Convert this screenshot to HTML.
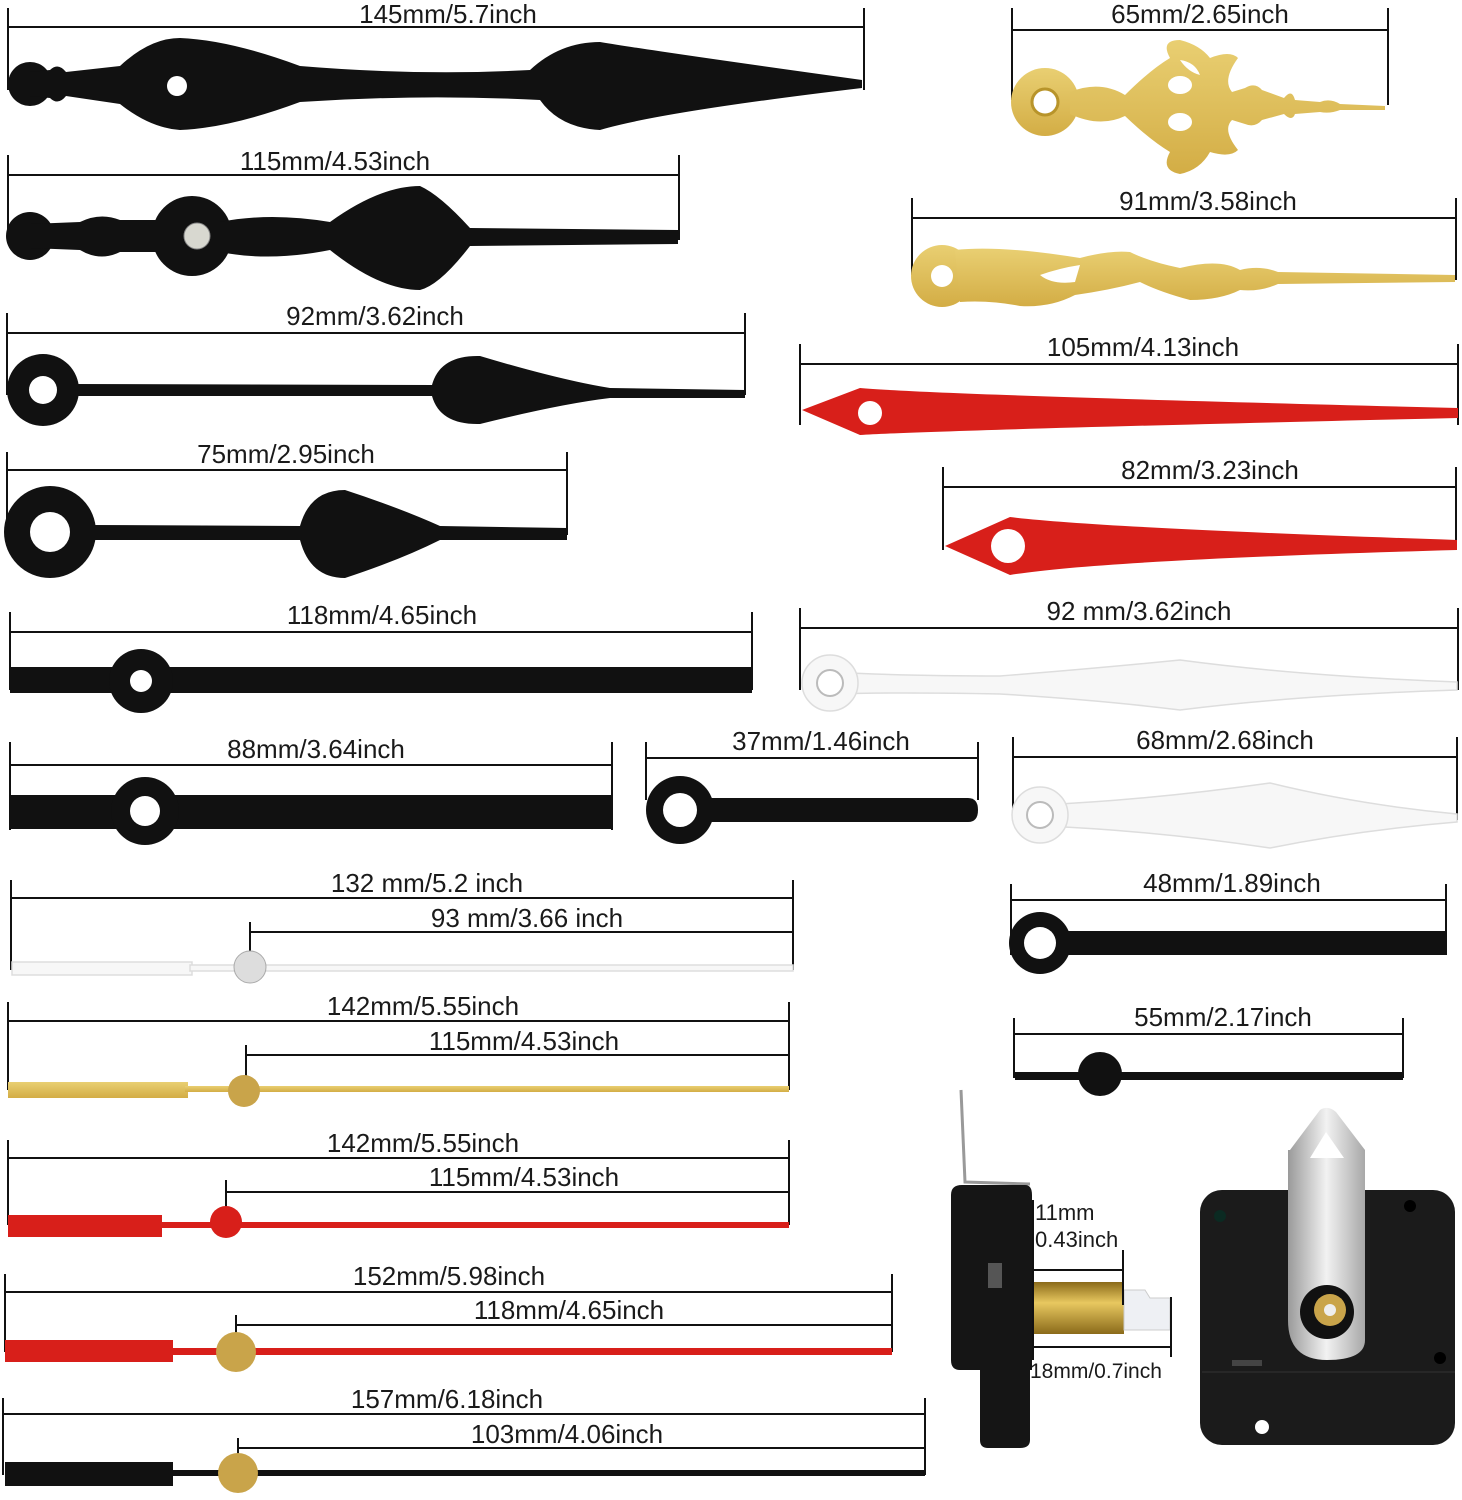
<!DOCTYPE html>
<html><head><meta charset="utf-8"><style>
html,body{margin:0;padding:0;background:#fff;}
svg{display:block;}
text{font-family:"Liberation Sans",sans-serif;font-size:26px;fill:#1a1a1a;}
</style></head><body>
<svg width="1462" height="1500" viewBox="0 0 1462 1500" xmlns="http://www.w3.org/2000/svg">
<defs>
<linearGradient id="gold" x1="0" y1="0" x2="0" y2="1"><stop offset="0" stop-color="#e9cf72"/><stop offset="1" stop-color="#d3ad45"/></linearGradient>
<linearGradient id="brass" x1="0" y1="0" x2="0" y2="1"><stop offset="0" stop-color="#8a6a1a"/><stop offset=".4" stop-color="#e8c860"/><stop offset="1" stop-color="#8a6a1a"/></linearGradient>
<linearGradient id="silver" x1="0" y1="0" x2="1" y2="0"><stop offset="0" stop-color="#9a9a9a"/><stop offset=".5" stop-color="#f2f2f2"/><stop offset="1" stop-color="#a8a8a8"/></linearGradient>
</defs>
<g stroke="#111" stroke-width="2" fill="none">
<path d="M8 27H864 M8 8V90 M864 8V90"/>
<path d="M1012 30H1388 M1012 8V100 M1388 8V105"/>
<path d="M8 175H679 M8 155V235 M679 155V240"/>
<path d="M912 218H1456 M912 198V275 M1456 198V280"/>
<path d="M7 333H745 M7 313V395 M745 313V395"/>
<path d="M800 364H1458 M800 344V425 M1458 344V425"/>
<path d="M7 470H567 M7 452V535 M567 452V535"/>
<path d="M943 487H1456 M943 467V550 M1456 467V550"/>
<path d="M10 632H752 M10 612V690 M752 612V690"/>
<path d="M800 628H1458 M800 608V690 M1458 608V690"/>
<path d="M10 765H612 M10 742V830 M612 742V830"/>
<path d="M646 758H978 M646 742V800 M978 742V800"/>
<path d="M1013 757H1457 M1013 737V820 M1457 737V820"/>
<path d="M11 898H793 M11 880V970 M793 880V970"/>
<path d="M250 932H793 M250 922V968"/>
<path d="M1011 900H1446 M1011 884V955 M1446 884V955"/>
<path d="M8 1021H789 M8 1002V1090 M789 1002V1090"/>
<path d="M246 1055H789 M246 1045V1090"/>
<path d="M1014 1034H1403 M1014 1018V1078 M1403 1018V1078"/>
<path d="M8 1158H789 M8 1140V1225 M789 1140V1225"/>
<path d="M226 1192H789 M226 1180V1222"/>
<path d="M5 1292H892 M5 1274V1352 M892 1274V1352"/>
<path d="M236 1325H892 M236 1315V1352"/>
<path d="M3 1414H925 M3 1398V1475 M925 1398V1475"/>
<path d="M238 1448H925 M238 1438V1473"/>
</g>
<g text-anchor="middle">
<text x="448" y="23">145mm/5.7inch</text>
<text x="1200" y="23">65mm/2.65inch</text>
<text x="335" y="170">115mm/4.53inch</text>
<text x="1208" y="210">91mm/3.58inch</text>
<text x="375" y="325">92mm/3.62inch</text>
<text x="1143" y="356">105mm/4.13inch</text>
<text x="286" y="463">75mm/2.95inch</text>
<text x="1210" y="479">82mm/3.23inch</text>
<text x="382" y="624">118mm/4.65inch</text>
<text x="1139" y="620">92 mm/3.62inch</text>
<text x="316" y="758">88mm/3.64inch</text>
<text x="821" y="750">37mm/1.46inch</text>
<text x="1225" y="749">68mm/2.68inch</text>
<text x="427" y="892">132 mm/5.2 inch</text>
<text x="527" y="927">93 mm/3.66 inch</text>
<text x="1232" y="892">48mm/1.89inch</text>
<text x="423" y="1015">142mm/5.55inch</text>
<text x="524" y="1050">115mm/4.53inch</text>
<text x="1223" y="1026">55mm/2.17inch</text>
<text x="423" y="1152">142mm/5.55inch</text>
<text x="524" y="1186">115mm/4.53inch</text>
<text x="449" y="1285">152mm/5.98inch</text>
<text x="569" y="1319">118mm/4.65inch</text>
<text x="447" y="1408">157mm/6.18inch</text>
<text x="567" y="1443">103mm/4.06inch</text>
</g>
<g fill="#111">
<circle cx="30" cy="84" r="22"/>
<path d="M30 72 L50 70 Q58 62 66 72 L120 66 Q150 38 180 38 Q230 40 300 66 Q420 76 530 70 Q560 42 600 42 Q660 52 862 80 L862 88 Q660 112 600 130 Q560 128 540 100 Q420 94 300 102 Q230 128 180 130 Q150 128 120 104 L66 96 Q58 106 50 98 L30 96Z"/>
<circle cx="30" cy="236" r="24"/>
<circle cx="192" cy="236" r="40"/>
<path d="M30 224 L80 222 Q100 212 120 220 L160 220 L160 252 L120 252 Q100 262 80 250 L30 248Z"/>
<path d="M220 222 Q270 212 330 222 Q380 186 420 186 Q440 195 470 228 L678 230 L678 244 L470 246 Q440 285 420 290 Q380 290 330 250 Q270 262 220 252Z"/>
<circle cx="43" cy="390" r="36"/>
<path d="M70 384 L432 385 Q440 355 480 356 Q560 380 610 388 L745 390 L745 398 L610 398 Q560 404 480 424 Q440 425 432 396 L70 396Z"/>
<circle cx="50" cy="532" r="46"/>
<path d="M90 525 L300 526 Q310 490 345 490 Q400 508 440 526 L567 528 L567 540 L440 540 Q400 560 345 578 Q310 578 300 540 L90 540Z"/>
<rect x="10" y="667" width="742" height="26"/>
<circle cx="141" cy="681" r="32"/>
<rect x="10" y="795" width="602" height="34"/>
<circle cx="145" cy="811" r="34"/>
<circle cx="680" cy="810" r="34"/>
<path d="M700 798 H968 Q978 798 978 810 Q978 822 968 822 H700Z"/>
<circle cx="1040" cy="943" r="31"/>
<rect x="1055" y="931" width="391" height="24"/>
<rect x="1015" y="1072" width="388" height="8"/>
<circle cx="1100" cy="1074" r="22"/>
<rect x="5" y="1462" width="168" height="24"/>
<rect x="170" y="1470" width="755" height="6"/>
</g>
<g fill="#fff">
<circle cx="177" cy="86" r="10"/>
<circle cx="43" cy="390" r="14"/>
<circle cx="50" cy="532" r="20"/>
<circle cx="141" cy="681" r="11"/>
<circle cx="145" cy="811" r="15"/>
<circle cx="680" cy="810" r="17"/>
<circle cx="1040" cy="943" r="16"/>
</g>
<circle cx="197" cy="236" r="13" fill="#d8d8d0" stroke="#888"/>
<g fill="url(#gold)">
<circle cx="1045" cy="102" r="34"/>
<path d="M1070 92 Q1100 80 1125 95 Q1150 70 1170 58 Q1160 40 1180 40 Q1200 45 1210 58 Q1230 50 1238 58 Q1222 80 1232 92 L1245 88 Q1255 82 1262 90 L1284 98 Q1292 88 1295 100 L1320 102 Q1330 98 1340 104 L1385 106 L1385 110 L1340 110 Q1330 114 1320 112 L1295 114 Q1292 122 1284 114 L1262 120 Q1255 128 1245 124 L1232 120 Q1222 130 1238 150 Q1230 158 1210 152 Q1200 170 1180 174 Q1160 170 1170 152 Q1150 140 1125 116 Q1100 128 1070 114Z"/>
<circle cx="942" cy="276" r="31"/>
<path d="M955 250 Q1000 245 1080 258 Q1110 250 1130 252 Q1150 262 1180 268 Q1220 258 1240 270 Q1260 265 1278 272 L1455 275 L1455 282 L1278 284 Q1260 292 1240 290 Q1220 300 1190 300 Q1160 292 1140 282 Q1110 290 1075 295 Q1050 308 1020 306 Q990 300 960 302Z"/>
</g>
<g fill="#fff">
<circle cx="1045" cy="102" r="13" stroke="#b8942a" stroke-width="3"/>
<circle cx="942" cy="276" r="11"/>
<ellipse cx="1180" cy="85" rx="12" ry="9"/><ellipse cx="1180" cy="122" rx="12" ry="9"/>
<path d="M1180 60 Q1195 62 1200 75 Q1188 72 1180 60Z"/>
<path d="M1080 265 Q1060 268 1040 275 Q1052 285 1075 282Z"/>
</g>
<g fill="#d81f1a">
<path d="M802 410 L860 388 Q940 395 1458 408 L1458 418 Q940 430 860 435Z"/>
<path d="M945 546 L1010 517 Q1100 528 1457 540 L1457 550 Q1100 560 1010 575Z"/>
<rect x="8" y="1215" width="154" height="22"/>
<rect x="160" y="1222" width="629" height="6"/>
<circle cx="226" cy="1222" r="16"/>
<rect x="5" y="1340" width="168" height="22"/>
<rect x="170" y="1348" width="722" height="7"/>
</g>
<circle cx="870" cy="413" r="12" fill="#fff"/>
<circle cx="1008" cy="546" r="17" fill="#fff"/>
<g fill="#f7f7f7" stroke="#ddd" stroke-width="1.5">
<path d="M830 672 Q900 676 1000 676 Q1100 668 1180 660 Q1300 676 1457 682 L1457 690 Q1300 695 1180 710 Q1100 700 1000 694 Q900 692 830 694Z"/>
<circle cx="830" cy="683" r="28"/>
<path d="M1040 805 Q1150 800 1270 783 Q1360 805 1457 814 L1457 822 Q1360 830 1270 848 Q1150 830 1040 826Z"/>
<circle cx="1040" cy="815" r="28"/>
<rect x="12" y="962" width="180" height="13"/>
<rect x="190" y="965" width="603" height="6"/>
</g>
<circle cx="830" cy="683" r="13" fill="#fff" stroke="#bbb" stroke-width="2"/>
<circle cx="1040" cy="815" r="13" fill="#fff" stroke="#bbb" stroke-width="2"/>
<circle cx="250" cy="967" r="16" fill="#ddd" stroke="#aaa"/>
<rect x="8" y="1082" width="180" height="16" fill="url(#gold)"/>
<rect x="185" y="1086" width="604" height="6" fill="url(#gold)"/>
<circle cx="244" cy="1091" r="16" fill="#c9a44a"/>
<circle cx="236" cy="1352" r="20" fill="#c9a44a"/>
<circle cx="238" cy="1473" r="20" fill="#c9a44a"/>
<path d="M961 1090 L965 1182 L1030 1184" stroke="#999" stroke-width="3" fill="none"/>
<path d="M962 1185 H1025 Q1032 1185 1032 1195 V1370 H1030 V1440 Q1030 1448 1020 1448 H988 Q980 1448 980 1440 V1370 H960 Q951 1370 951 1360 V1195 Q951 1185 962 1185Z" fill="#151515"/>
<rect x="988" y="1263" width="14" height="25" fill="#555"/>
<rect x="1032" y="1282" width="92" height="52" fill="url(#brass)"/>
<path d="M1124 1290 H1145 L1150 1298 H1170 V1330 H1124Z" fill="#eef0f4" stroke="#ccc"/>
<g stroke="#111" stroke-width="2" fill="none">
<path d="M1123 1250V1305 M1033 1270H1123 M1033 1200V1360 M1033 1347H1171 M1171 1297V1357"/>
</g>
<text x="1035" y="1220" style="font-size:22px" text-anchor="start">11mm</text>
<text x="1035" y="1247" style="font-size:22px" text-anchor="start">0.43inch</text>
<text x="1030" y="1378" style="font-size:21px" text-anchor="start">18mm/0.7inch</text>
<rect x="1200" y="1190" width="255" height="255" rx="22" fill="#1b1b1b"/>
<path d="M1290 1150 L1320 1110 Q1328 1105 1336 1112 L1365 1150 V1340 Q1365 1360 1327 1360 Q1288 1360 1288 1320 V1150Z" fill="url(#silver)"/>
<path d="M1310 1158 L1326 1132 L1344 1158Z" fill="#fff"/>
<circle cx="1327" cy="1312" r="27" fill="#111"/>
<circle cx="1330" cy="1310" r="16" fill="#c9a44a"/>
<circle cx="1330" cy="1310" r="6" fill="#eee"/>
<circle cx="1220" cy="1216" r="6" fill="#0b2a22"/>
<circle cx="1410" cy="1206" r="6" fill="#000"/>
<circle cx="1440" cy="1358" r="6" fill="#000"/>
<circle cx="1262" cy="1427" r="7" fill="#fff"/>
<rect x="1232" y="1360" width="30" height="6" fill="#444"/>
<path d="M1202 1372 H1455" stroke="#333" stroke-width="1"/>
</svg>
</body></html>
